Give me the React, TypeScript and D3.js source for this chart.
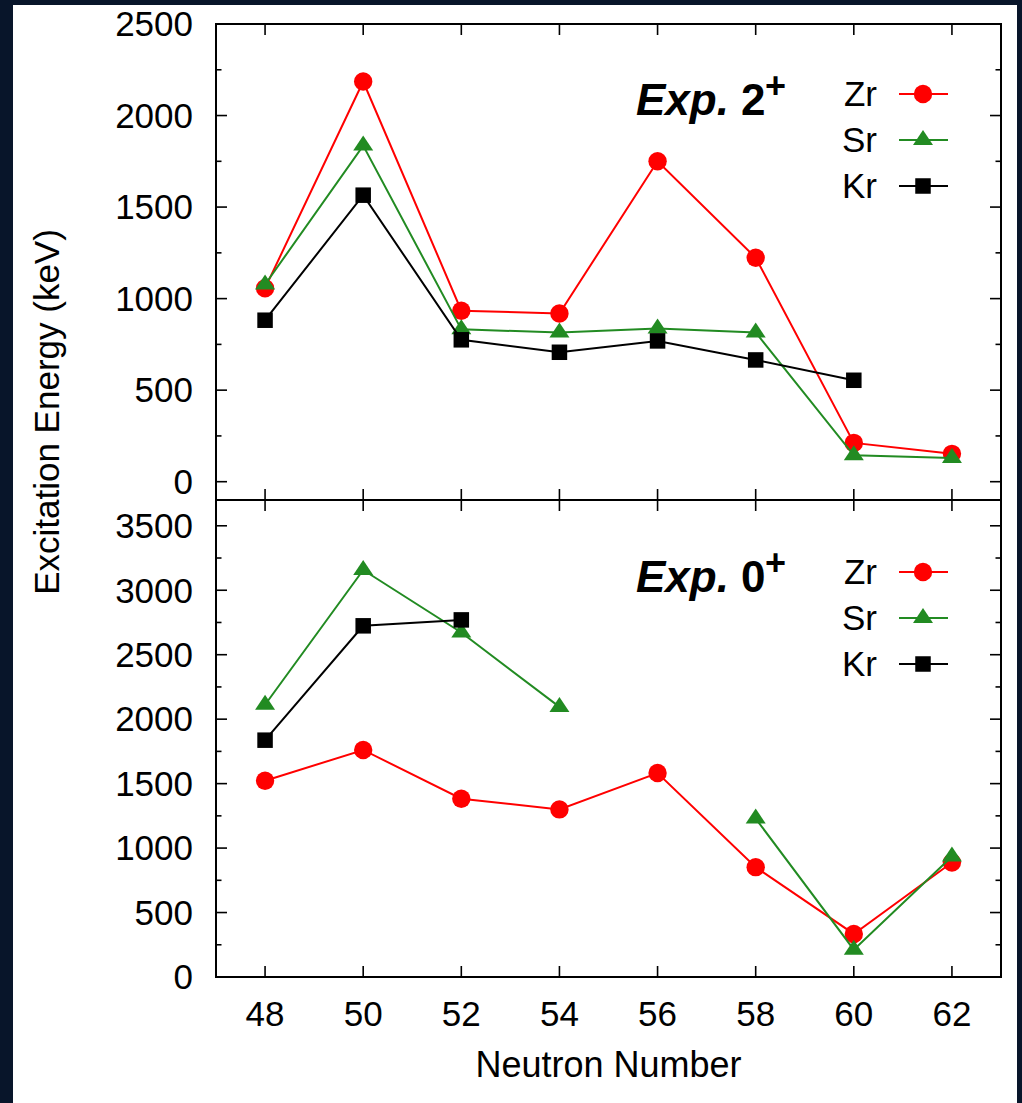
import React from 'react';
import * as d3 from 'd3';

// ---------- data ----------
const neutronNumbers = [48, 50, 52, 54, 56, 58, 60, 62];
const xTickValues = [48, 50, 52, 54, 56, 58, 60, 62];

// Upper panel: Exp. 2+
const zr2 = [1057, 2186, 934, 919, 1750, 1223, 212, 152];
const sr2 = [1077, 1836, 832, 815, 837, 815, 144, 129];
const kr2 = [882, 1565, 775, 707, 769, 665, 554, null];

// Lower panel: Exp. 0+
const zr0 = [1522, 1761, 1383, 1300, 1582, 852, 334, 888];
const sr0 = [2112, 3157, 2672, 2095, null, 1229, 212, 935];
const kr0 = [1837, 2724, 2770, null, null, null, null, null];

const seriesNames = ['Zr', 'Sr', 'Kr'];
const seriesColors = ['#ff0000', '#228b22', '#000000'];
const seriesShapes = ['circle', 'triangle', 'square'];

const topMajor = [0, 500, 1000, 1500, 2000, 2500];
const topMinor = [250, 750, 1250, 1750, 2250];
const botMajor = [0, 500, 1000, 1500, 2000, 2500, 3000, 3500];
const botMinor = [250, 750, 1250, 1750, 2250, 2750, 3250];

// ---------- layout ----------
const W = 1022;
const H = 1103;
const L = 216;
const R = 1001;
const T = 24;
const M = 500;
const B = 977;
const FONT = '"Liberation Sans", Arial, Helvetica, sans-serif';
const FS = 35;

const x = d3.scaleLinear().domain([47, 63]).range([L, R]);
const yTop = d3.scaleLinear().domain([-100, 2500]).range([M, T]);
const yBot = d3.scaleLinear().domain([0, 3700]).range([B, M]);

function Marker({ shape, cx, cy, color }: { shape: string; cx: number; cy: number; color: string }) {
  if (shape === 'circle') return <circle cx={cx} cy={cy} r={9.2} fill={color} />;
  if (shape === 'triangle') {
    const p = `M${cx},${cy - 10} L${cx + 10},${cy + 5} L${cx - 10},${cy + 5} Z`;
    return <path d={p} fill={color} />;
  }
  const s = 15.5;
  return <rect x={cx - s / 2} y={cy - s / 2} width={s} height={s} fill={color} />;
}

function Series({ values, y, color, shape }: { values: (number | null)[]; y: d3.ScaleLinear<number, number>; color: string; shape: string }) {
  const pts = neutronNumbers.map((n, i) => ({ n, v: values[i] }));
  const line = d3
    .line<{ n: number; v: number | null }>()
    .defined((d) => d.v != null)
    .x((d) => x(d.n))
    .y((d) => y(d.v as number));
  return (
    <g>
      <path d={line(pts) || ''} fill="none" stroke={color} strokeWidth={2} />
      {pts
        .filter((d) => d.v != null)
        .map((d, i) => (
          <Marker key={i} shape={shape} cx={x(d.n)} cy={y(d.v as number)} color={color} />
        ))}
    </g>
  );
}

function Panel({
  y, major, minor, top, bottom, data, title, legendRows, titleBaseline,
}: {
  y: d3.ScaleLinear<number, number>; major: number[]; minor: number[]; top: number; bottom: number;
  data: (number | null)[][]; title: string; legendRows: number[]; titleBaseline: number;
}) {
  const majLen = 11;
  const minLen = 5.5;
  return (
    <g>
      {major.map((v) => (
        <g key={'M' + v}>
          <line x1={L} x2={L + majLen} y1={y(v)} y2={y(v)} stroke="#000" strokeWidth={1.6} />
          <line x1={R} x2={R - majLen} y1={y(v)} y2={y(v)} stroke="#000" strokeWidth={1.6} />
          <text x={193} y={y(v) + 12.3} textAnchor="end" fontSize={FS} fontFamily={FONT} fill="#000">{v}</text>
        </g>
      ))}
      {minor.map((v) => (
        <g key={'m' + v}>
          <line x1={L} x2={L + minLen} y1={y(v)} y2={y(v)} stroke="#000" strokeWidth={1.6} />
          <line x1={R} x2={R - minLen} y1={y(v)} y2={y(v)} stroke="#000" strokeWidth={1.6} />
        </g>
      ))}
      {xTickValues.map((n) => (
        <g key={'x' + n}>
          <line x1={x(n)} x2={x(n)} y1={top} y2={top + majLen} stroke="#000" strokeWidth={1.6} />
          <line x1={x(n)} x2={x(n)} y1={bottom} y2={bottom - majLen} stroke="#000" strokeWidth={1.6} />
        </g>
      ))}
      {data.map((vals, i) => (
        <Series key={i} values={vals} y={y} color={seriesColors[i]} shape={seriesShapes[i]} />
      ))}
      <text x={636} y={titleBaseline} fontSize={44} fontWeight="bold" fontStyle="italic" fontFamily={FONT} fill="#000">Exp.</text>
      <text x={741} y={titleBaseline} fontSize={44} fontWeight="bold" fontFamily={FONT} fill="#000">{title}</text>
      <text x={765} y={titleBaseline - 17} fontSize={36} fontWeight="bold" fontFamily={FONT} fill="#000">+</text>
      {seriesNames.map((name, i) => (
        <g key={name}>
          <text x={877} y={legendRows[i] + 12.3} textAnchor="end" fontSize={FS} fontFamily={FONT} fill="#000">{name}</text>
          <line x1={899} x2={948} y1={legendRows[i]} y2={legendRows[i]} stroke={seriesColors[i]} strokeWidth={2} />
          <Marker shape={seriesShapes[i]} cx={923} cy={legendRows[i]} color={seriesColors[i]} />
        </g>
      ))}
    </g>
  );
}

export default function App() {
  return (
    <svg width={W} height={H} style={{ position: 'absolute', left: 0, top: 0, display: 'block' }}>
      <rect x={0} y={0} width={W} height={H} fill="#08152a" />
      <rect x={13} y={5} width={1004} height={H - 5} fill="#ffffff" />
      <Panel y={yTop} major={topMajor} minor={topMinor} top={T} bottom={M} data={[zr2, sr2, kr2]} title="2" legendRows={[94, 140, 186]} titleBaseline={115} />
      <Panel y={yBot} major={botMajor} minor={botMinor} top={M} bottom={B} data={[zr0, sr0, kr0]} title="0" legendRows={[572, 618, 664]} titleBaseline={592} />
      <rect x={L} y={T} width={R - L} height={B - T} fill="none" stroke="#000" strokeWidth={2} />
      <line x1={L} x2={R} y1={M} y2={M} stroke="#000" strokeWidth={2} />
      {xTickValues.map((n) => (
        <text key={n} x={x(n)} y={1026} textAnchor="middle" fontSize={FS} fontFamily={FONT} fill="#000">{n}</text>
      ))}
      <text x={(L + R) / 2} y={1077} textAnchor="middle" fontSize={36} fontFamily={FONT} fill="#000">Neutron Number</text>
      <text transform="translate(59,412) rotate(-90)" textAnchor="middle" fontSize={FS} fontFamily={FONT} fill="#000">Excitation Energy (keV)</text>
    </svg>
  );
}
